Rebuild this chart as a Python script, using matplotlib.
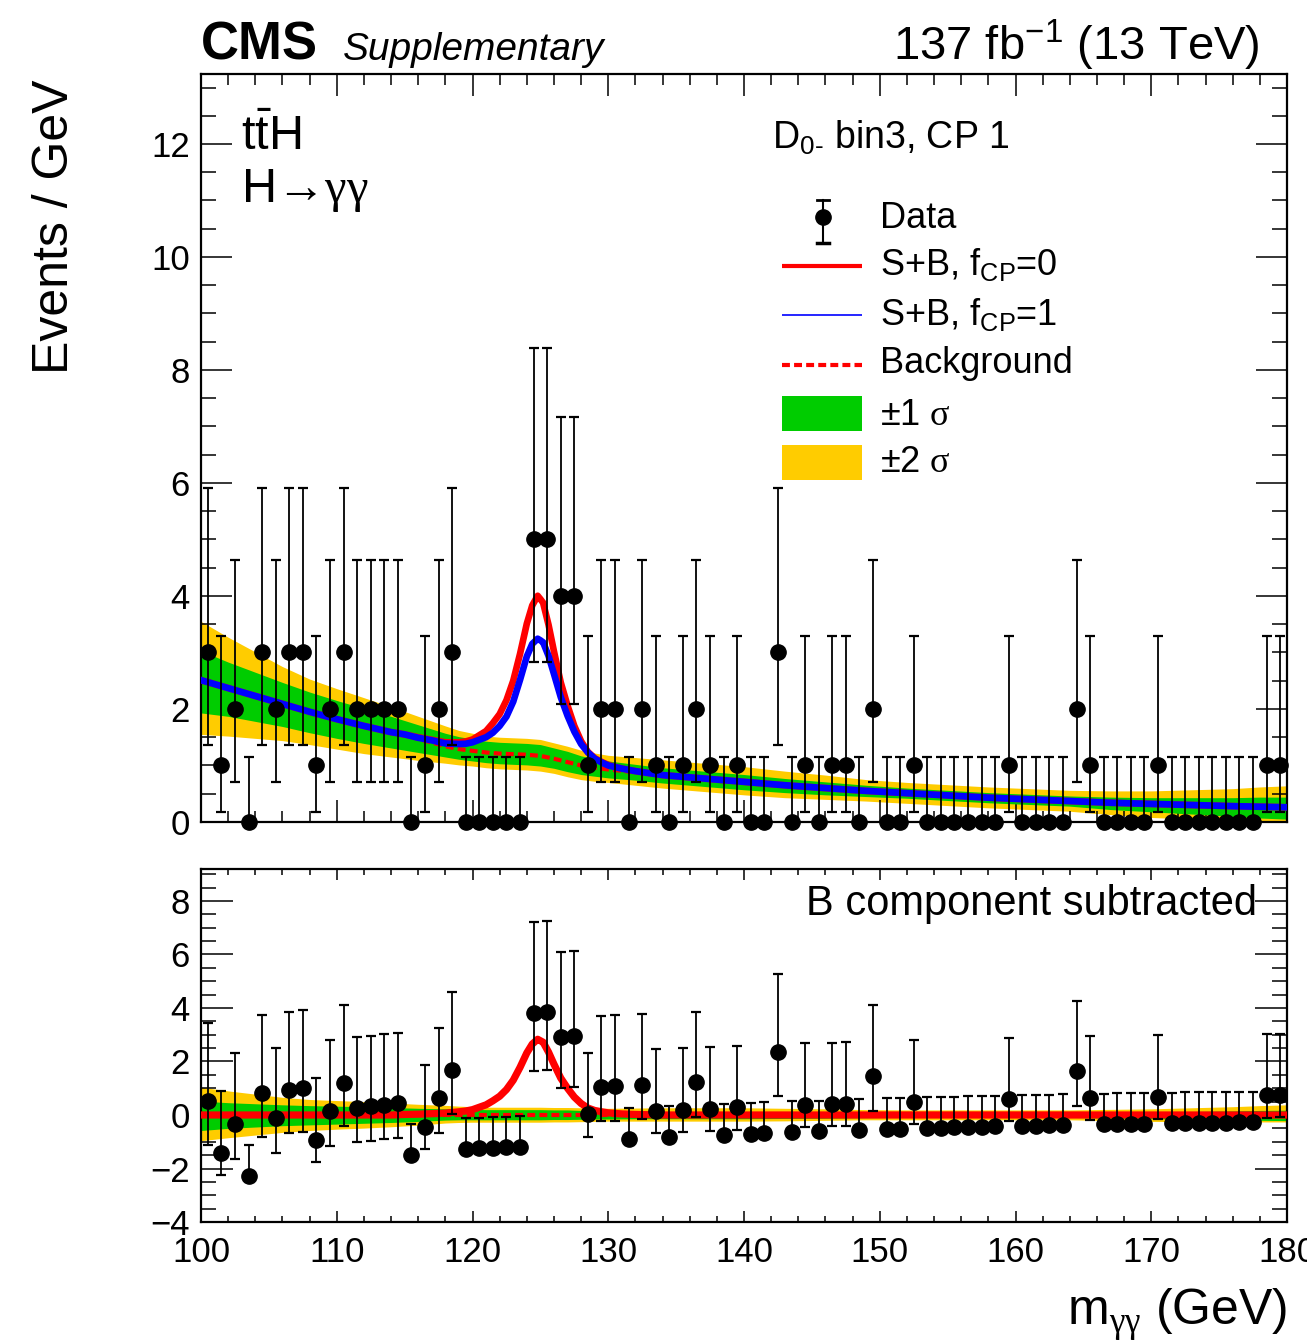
import numpy as np
import matplotlib
matplotlib.use('Agg')
import matplotlib.pyplot as plt
from matplotlib.patches import Rectangle
from matplotlib.ticker import MultipleLocator

plt.rcParams['font.family'] = ['Liberation Sans', 'DejaVu Sans']
plt.rcParams['mathtext.fontset'] = 'custom'
plt.rcParams['mathtext.rm'] = 'Liberation Sans'
plt.rcParams['mathtext.it'] = 'Liberation Sans:italic'
plt.rcParams['mathtext.bf'] = 'Liberation Sans:bold'
plt.rcParams['mathtext.sf'] = 'Liberation Serif'

# --- observed events, 1 GeV bins from 100 to 180 GeV
bin_lo = np.arange(100, 180)
bin_centres = bin_lo + 0.5
n_events = [3, 1, 2, 0, 3, 2, 3, 3, 1, 2,
            3, 2, 2, 2, 2, 0, 1, 2, 3, 0,
            0, 0, 0, 0, 5, 5, 4, 4, 1, 2,
            2, 0, 2, 1, 0, 1, 2, 1, 0, 1,
            0, 0, 3, 0, 1, 0, 1, 1, 0, 2,
            0, 0, 1, 0, 0, 0, 0, 0, 0, 1,
            0, 0, 0, 0, 2, 1, 0, 0, 0, 0,
            1, 0, 0, 0, 0, 0, 0, 0, 1, 1]

# poisson 68% intervals for n = 0..5 (zero bins: upper edge only)
poisson_lo = [0.0, 0.173, 0.708, 1.367, 2.086, 2.840]
poisson_hi = [1.148, 3.300, 4.638, 5.918, 7.163, 8.382]

# --- background-only fit and its uncertainty bands
fit_mass = [100, 102, 104, 106, 108, 110, 112, 114, 116, 118, 119, 120, 121,
            122, 123, 124, 125, 126, 127, 128, 129, 130, 132, 134, 136, 138,
            140, 143, 146, 149, 152, 155, 158, 161, 164, 167, 170, 173, 176,
            178, 180]
bkg_fit = [2.51, 2.37, 2.23, 2.09, 1.95, 1.82, 1.70, 1.59, 1.47, 1.34, 1.29,
           1.26, 1.23, 1.21, 1.20, 1.19, 1.17, 1.12, 1.06, 1.00, 0.96, 0.93,
           0.88, 0.83, 0.79, 0.75, 0.71, 0.65, 0.60, 0.55, 0.51, 0.47, 0.43,
           0.40, 0.37, 0.34, 0.32, 0.30, 0.28, 0.27, 0.26]
band1_up = [0.52, 0.46, 0.42, 0.38, 0.35, 0.33, 0.31, 0.28, 0.25, 0.23, 0.22,
            0.21, 0.20, 0.20, 0.20, 0.20, 0.20, 0.19, 0.19, 0.17, 0.16, 0.15,
            0.14, 0.13, 0.13, 0.13, 0.13, 0.12, 0.11, 0.10, 0.09, 0.09, 0.09,
            0.09, 0.09, 0.10, 0.11, 0.13, 0.15, 0.17, 0.18]
band1_dn = [0.58, 0.50, 0.45, 0.40, 0.37, 0.34, 0.31, 0.28, 0.24, 0.19, 0.18,
            0.18, 0.18, 0.18, 0.18, 0.18, 0.18, 0.17, 0.17, 0.16, 0.15, 0.15,
            0.14, 0.14, 0.14, 0.14, 0.14, 0.13, 0.12, 0.10, 0.09, 0.09, 0.09,
            0.09, 0.09, 0.12, 0.14, 0.16, 0.18, 0.20, 0.21]
band2_up = [1.04, 0.90, 0.78, 0.66, 0.58, 0.54, 0.50, 0.45, 0.40, 0.36, 0.33,
            0.31, 0.29, 0.29, 0.29, 0.29, 0.29, 0.28, 0.28, 0.27, 0.26, 0.25,
            0.26, 0.27, 0.27, 0.27, 0.27, 0.25, 0.23, 0.20, 0.19, 0.19, 0.19,
            0.19, 0.19, 0.21, 0.23, 0.27, 0.31, 0.35, 0.38]
band2_dn = [0.96, 0.85, 0.75, 0.65, 0.58, 0.53, 0.49, 0.44, 0.38, 0.30, 0.28,
            0.27, 0.27, 0.27, 0.27, 0.27, 0.27, 0.26, 0.26, 0.25, 0.24, 0.23,
            0.23, 0.23, 0.23, 0.23, 0.23, 0.22, 0.20, 0.18, 0.18, 0.18, 0.18,
            0.18, 0.18, 0.21, 0.24, 0.25, 0.26, 0.26, 0.26]

# --- signal component of the S+B fits
sig_mass = [115, 116, 117, 118, 119, 119.5, 120, 120.5, 121, 121.5, 122, 122.5,
            123, 123.5, 124, 124.4, 124.8, 125.2, 125.6, 126, 126.5, 127, 127.5,
            128, 128.5, 129, 129.5, 130, 131, 132, 134]
sig_fcp0 = [0.02, 0.03, 0.05, 0.07, 0.12, 0.15, 0.20, 0.29, 0.38, 0.53, 0.70,
            0.95, 1.30, 1.78, 2.32, 2.65, 2.83, 2.72, 2.35, 1.90, 1.38, 1.00,
            0.67, 0.43, 0.26, 0.17, 0.12, 0.08, 0.04, 0.02, 0.0]
sig_fcp1 = [0.02, 0.02, 0.04, 0.05, 0.09, 0.11, 0.15, 0.21, 0.27, 0.36, 0.49,
            0.66, 0.93, 1.32, 1.74, 1.97, 2.07, 2.02, 1.80, 1.50, 1.12, 0.82,
            0.57, 0.38, 0.25, 0.16, 0.11, 0.07, 0.04, 0.02, 0.0]

xticks = [100, 110, 120, 130, 140, 150, 160, 170, 180]

RED = '#ff0000'
BLUE = '#0000ff'
GREEN = '#00cc00'
YELLOW = '#ffcc00'

# derived quantities
fit_mass = np.array(fit_mass)
bkg = np.array(bkg_fit)
n = np.array(n_events)
err_lo = n - np.array(poisson_lo)[n]
err_hi = np.array(poisson_hi)[n] - n

curve_x = np.union1d(fit_mass, sig_mass)
bkg_curve = np.interp(curve_x, fit_mass, bkg)
s0_curve = np.interp(curve_x, sig_mass, sig_fcp0, left=0, right=0)
s1_curve = np.interp(curve_x, sig_mass, sig_fcp1, left=0, right=0)
resid = n - np.interp(bin_centres, fit_mass, bkg)

fig = plt.figure(figsize=(13.07, 13.42), dpi=100)
ax = fig.add_axes([0.1538, 0.3875, 0.8309, 0.5574])
rax = fig.add_axes([0.1538, 0.0894, 0.8309, 0.2630])

point_style = dict(fmt='o', color='black', ms=11, elinewidth=1.3,
                   capsize=3.6, capthick=1.6)

# ---------------- upper panel
ax.fill_between(fit_mass, bkg - np.array(band2_dn), bkg + np.array(band2_up),
                color=YELLOW, lw=0, zorder=1)
ax.fill_between(fit_mass, bkg - np.array(band1_dn), bkg + np.array(band1_up),
                color=GREEN, lw=0, zorder=2)
ax.plot(curve_x, bkg_curve, color=RED, lw=3.0, dashes=(1.9, 1.0), zorder=3)
ax.plot(curve_x, bkg_curve + s0_curve, color=RED, lw=4.8, zorder=4)
ax.plot(curve_x, bkg_curve + s1_curve, color=BLUE, lw=4.8, zorder=5)
ax.errorbar(bin_centres, n, yerr=[err_lo, err_hi], zorder=6, clip_on=False,
            **point_style)

ax.set_xlim(100, 180)
ax.set_ylim(0, 13.24)

# ---------------- lower panel
rax.fill_between(fit_mass, -np.array(band2_dn), np.array(band2_up),
                 color=YELLOW, lw=0, zorder=1)
rax.fill_between(fit_mass, -np.array(band1_dn), np.array(band1_up),
                 color=GREEN, lw=0, zorder=2)
rax.plot(curve_x, np.zeros_like(curve_x), color=RED, lw=3.0,
         dashes=(1.9, 1.0), zorder=3)
rax.plot(curve_x, s0_curve, color=RED, lw=5.2, zorder=4)
rax.errorbar(bin_centres, resid, yerr=[err_lo, err_hi], zorder=6,
             **point_style)
rax.set_xlim(100, 180)
rax.set_ylim(-4, 9.19)

# ---------------- axes styling (ROOT-like inward ticks on all sides)
for a in (ax, rax):
    a.set_xticks(xticks)
    a.xaxis.set_minor_locator(MultipleLocator(2))
    a.yaxis.set_major_locator(MultipleLocator(2))
    a.yaxis.set_minor_locator(MultipleLocator(0.5))
    a.tick_params(which='both', direction='in', top=True, right=True,
                  width=1.1, labelsize=25)
    for sp in a.spines.values():
        sp.set_linewidth(1.6)

ax.tick_params(axis='x', which='major', length=16, labelbottom=False)
ax.tick_params(axis='x', which='minor', length=8)
ax.tick_params(axis='y', which='major', length=22, pad=8)
ax.tick_params(axis='y', which='minor', length=11)

rax.tick_params(axis='x', which='major', length=8, pad=10)
rax.tick_params(axis='x', which='minor', length=4)
rax.tick_params(axis='y', which='major', length=23, pad=8)
rax.tick_params(axis='y', which='minor', length=11)

# ---------------- labels
fig.text(0.042, 0.9404, 'Events / GeV', rotation=90, ha='center', va='top',
         fontsize=36)
fig.text(0.9847, 0.0127, r'm$_{\mathsf{\gamma\gamma}}$ (GeV)', ha='right',
         va='baseline', fontsize=36)

fig.text(0.1538, 0.9553, 'CMS', fontsize=38, fontweight='bold',
         va='baseline')
fig.text(0.2624, 0.9553, 'Supplementary', fontsize=28, style='italic',
         va='baseline')
fig.text(0.964, 0.9553, r'137 fb$^{-1}$ (13 TeV)', fontsize=34, ha='right',
         va='baseline')

ax.text(0.0368, 0.898, r'$\mathrm{t\bar{t}H}$', transform=ax.transAxes,
        fontsize=35, va='baseline')
ax.text(0.0368, 0.829, r'H→$\mathsf{\gamma\gamma}$',
        transform=ax.transAxes, fontsize=35, va='baseline')
ax.text(0.5258, 0.9007, 'D$_{\\mathrm{0\u2010}}$ bin3, CP 1',
        transform=ax.transAxes, fontsize=27, va='baseline')
rax.text(0.972, 0.8697, 'B component subtracted', transform=rax.transAxes,
         fontsize=30, ha='right', va='baseline')

# ---------------- legend
T = ax.transAxes
lx0, lx1, tx = 0.535, 0.6087, 0.6252
ax.plot([0.5725, 0.5725], [0.7752, 0.8316], color='black', lw=1.5,
        transform=T, clip_on=False, zorder=7)
ax.plot([0.567, 0.578], [0.8316, 0.8316], color='black', lw=2.0,
        transform=T, clip_on=False, zorder=7)
ax.plot([0.567, 0.578], [0.7740, 0.7740], color='black', lw=2.5,
        transform=T, clip_on=False, zorder=7)
ax.plot([0.5725], [0.8092], 'o', color='black', ms=11, transform=T,
        clip_on=False, zorder=7)
ax.plot([lx0, lx1], [0.7437, 0.7437], color=RED, lw=3.0, transform=T,
        solid_capstyle='butt', zorder=7)
ax.plot([lx0, lx1], [0.6778, 0.6778], color=BLUE, lw=1.2, transform=T,
        solid_capstyle='butt', zorder=7)
ax.plot([lx0, lx1], [0.6110, 0.6110], color=RED, lw=3.0, dashes=(1.9, 1.0),
        transform=T, zorder=7)
ax.add_patch(Rectangle((lx0, 0.5227), lx1 - lx0, 0.0468, color=GREEN,
                       transform=T, zorder=7, lw=0))
ax.add_patch(Rectangle((lx0, 0.457), lx1 - lx0, 0.047, color=YELLOW,
                       transform=T, zorder=7, lw=0))

legend_text = [('Data', 0.794),
               (r'S+B, f$_{\mathrm{CP}}$=0', 0.7313),
               (r'S+B, f$_{\mathrm{CP}}$=1', 0.6644),
               ('Background', 0.6003),
               (r'$\pm$1 $\mathsf{\sigma}$', 0.5307),
               (r'$\pm$2 $\mathsf{\sigma}$', 0.4679)]
for label, ty in legend_text:
    ax.text(tx, ty, label, transform=T, fontsize=26, va='baseline', zorder=7)

fig.savefig('out.png', dpi=100)
